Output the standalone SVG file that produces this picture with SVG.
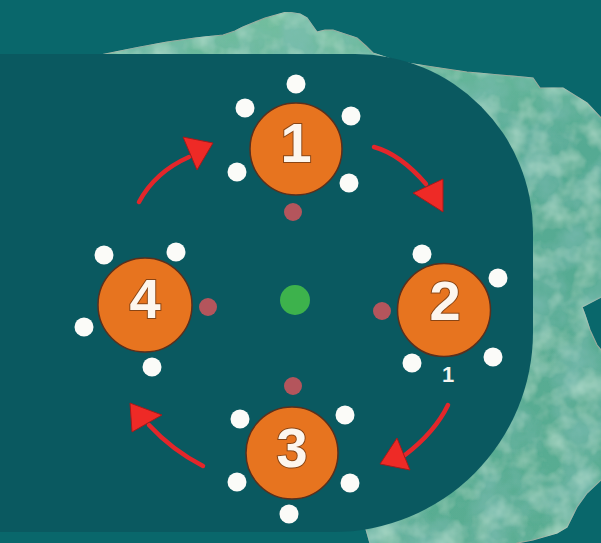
<svg xmlns="http://www.w3.org/2000/svg" width="601" height="543" viewBox="0 0 601 543">
<defs>
<filter id="wc" x="0" y="0" width="1" height="1">
<feTurbulence type="fractalNoise" baseFrequency="0.025" numOctaves="4" seed="3" result="n"/>
<feColorMatrix in="n" type="matrix" values="0 0 0 0 0.22  0 0 0 0 0.52  0 0 0 0 0.48  0 0 0 1.3 -0.45" result="dk"/>
<feComposite in="dk" in2="SourceGraphic" operator="in" result="dkm"/>
<feTurbulence type="fractalNoise" baseFrequency="0.04" numOctaves="3" seed="11" result="n2"/>
<feColorMatrix in="n2" type="matrix" values="0 0 0 0 0.50  0 0 0 0 0.78  0 0 0 0 0.65  0 0 0 1.2 -0.5" result="lt"/>
<feComposite in="lt" in2="SourceGraphic" operator="in" result="ltm"/>
<feMerge><feMergeNode in="SourceGraphic"/><feMergeNode in="dkm"/><feMergeNode in="ltm"/></feMerge>
</filter>
<linearGradient id="bg" x1="0" y1="0" x2="0" y2="1">
<stop offset="0" stop-color="#74bf9f"/>
<stop offset="0.25" stop-color="#55aa93"/>
<stop offset="1" stop-color="#5aad92"/>
</linearGradient>
<style>
.orb{fill:#e7741f;stroke:#5b2f1c;stroke-width:1.5}
.num{font-family:"Liberation Sans",Arial,sans-serif;font-weight:bold;font-size:56px;fill:#fdf6ee;text-anchor:middle;stroke:#8a4514;stroke-width:2;paint-order:stroke}
.dot{fill:#fbfbf8}
.rdot{fill:#b4555c}
.shaft{fill:none;stroke:#e3262a;stroke-width:4.5;stroke-linecap:round}
.head{fill:#ee2a26;stroke:#a31a1c;stroke-width:1;stroke-linejoin:round}
</style>
</defs>
<rect width="601" height="543" fill="#09676b"/>
<path id="blob" d="M100,55 L110,53 L140,47 L167,42 L195,38 L223,35 L235,31 L243,27 L265,18 L287,12 L300,14 L307,18 L312,25 L317,32 L325,30 L333,30 L345,34 L357,38 L366,46 L373,53 L400,62 L407,63 L440,68 L467,72 L500,75 L533,78 L540,88 L563,88 L587,103 L601,118 L610,118 L610,297 L601,297 L582,307 L585,315 L590,330 L597,345 L601,350 L610,350 L610,480 L601,480 L587,493 L577,507 L567,527 L557,533 L533,540 L517,543 L510,550 L372,550 L300,300 Z" fill="url(#bg)" stroke="#9aa898" stroke-width="1.2" filter="url(#wc)"/>
<path id="panel" d="M0,54 H355 A178,178 0 0 1 533,232 V332 A200,200 0 0 1 333,532 H0 Z" fill="#0a5960"/>
<g id="centre">
<circle cx="295" cy="300" r="15" fill="#3db24c"/>
<circle class="rdot" cx="293" cy="212" r="9"/>
<circle class="rdot" cx="382" cy="311" r="9"/>
<circle class="rdot" cx="293" cy="386" r="9"/>
<circle class="rdot" cx="208" cy="307" r="9"/>
</g>
<g id="connectors">
<path class="shaft" d="M139,202 Q155,172 189,157"/>
<polygon class="head" points="183,137 213,143 197,170"/>
<path class="shaft" d="M374,147 Q400,154 426,184"/>
<polygon class="head" points="413,193 443,179 443,212"/>
<path class="shaft" d="M448,405 Q435,432 405,455"/>
<polygon class="head" points="397,438 410,470 380,464"/>
<path class="shaft" d="M203,466 Q172,450 149,425"/>
<polygon class="head" points="130,403 162,415 132,432"/>
</g>
<g id="node1">
<circle class="dot" cx="296" cy="84" r="9.5"/>
<circle class="dot" cx="245" cy="108" r="9.5"/>
<circle class="dot" cx="351" cy="116" r="9.5"/>
<circle class="dot" cx="237" cy="172" r="9.5"/>
<circle class="dot" cx="349" cy="183" r="9.5"/>
<circle class="orb" cx="296" cy="149" r="46"/>
<text class="num" x="296" y="162">1</text>
</g>
<g id="node2">
<circle class="dot" cx="422" cy="254" r="9.5"/>
<circle class="dot" cx="498" cy="278" r="9.5"/>
<circle class="dot" cx="412" cy="363" r="9.5"/>
<circle class="dot" cx="493" cy="357" r="9.5"/>
<circle class="orb" cx="444" cy="310" r="46.5"/>
<text class="num" x="445" y="320">2</text>
<text x="448" y="382" font-family="Liberation Sans,Arial,sans-serif" font-weight="bold" font-size="22" fill="#f4f4f0" text-anchor="middle">1</text>
</g>
<g id="node3">
<circle class="dot" cx="240" cy="419" r="9.5"/>
<circle class="dot" cx="345" cy="415" r="9.5"/>
<circle class="dot" cx="237" cy="482" r="9.5"/>
<circle class="dot" cx="350" cy="483" r="9.5"/>
<circle class="dot" cx="289" cy="514" r="9.5"/>
<circle class="orb" cx="292" cy="453" r="46"/>
<text class="num" x="292" y="467">3</text>
</g>
<g id="node4">
<circle class="dot" cx="104" cy="255" r="9.5"/>
<circle class="dot" cx="176" cy="252" r="9.5"/>
<circle class="dot" cx="84" cy="327" r="9.5"/>
<circle class="dot" cx="152" cy="367" r="9.5"/>
<circle class="orb" cx="145" cy="305" r="47"/>
<text class="num" x="145" y="318">4</text>
</g>
</svg>
